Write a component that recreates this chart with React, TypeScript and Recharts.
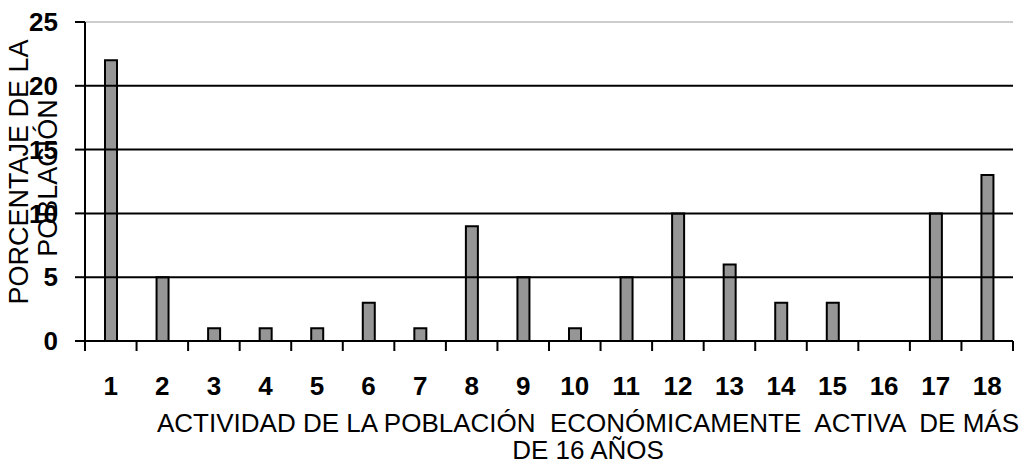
import React from 'react';
import { BarChart, Bar, XAxis, YAxis, ReferenceLine } from 'recharts';

const categories = ['1','2','3','4','5','6','7','8','9','10','11','12','13','14','15','16','17','18'];
const values = [22, 5, 1, 1, 1, 3, 1, 9, 5, 1, 5, 10, 6, 3, 3, 0, 10, 13];
const yTicks = [0, 5, 10, 15, 20, 25];
const gridBlack = [5, 10, 15, 20];
const gridTop = 25;
const yTitle = ['PORCENTAJE DE LA', 'POBLACIÓN'];
const xTitle = ['ACTIVIDAD DE LA POBLACIÓN  ECONÓMICAMENTE  ACTIVA  DE MÁS', 'DE 16 AÑOS'];

const data = categories.map((c, i) => ({ cat: c, value: values[i] }));
const FONT = '"Liberation Sans", Arial, sans-serif';

const YTitle = () => (
  <g fontFamily={FONT} fontSize={27} fill="#000">
    <text transform="translate(28,172) rotate(-90)" textAnchor="middle">{yTitle[0]}</text>
    <text transform="translate(57,178) rotate(-90)" textAnchor="middle">{yTitle[1]}</text>
  </g>
);

const XTitle = () => (
  <g fontFamily={FONT} fontSize={26} fill="#000">
    <text x={157} y={432} style={{ whiteSpace: 'pre' }}>{xTitle[0]}</text>
    <text x={588} y={459} textAnchor="middle">{xTitle[1]}</text>
  </g>
);

const XTick = (props: any) => {
  const { x, y, payload, index, visibleTicksCount } = props;
  const half = payload.offset || 0;
  const axisY = y - 36;
  const last = index === visibleTicksCount - 1;
  return (
    <g>
      <line x1={x - half} x2={x - half} y1={axisY} y2={axisY + 10} stroke="#000" strokeWidth={2} />
      {last && <line x1={x + half} x2={x + half} y1={axisY} y2={axisY + 10} stroke="#000" strokeWidth={2} />}
      <text x={x} y={y + 18} textAnchor="middle" fill="#000" fontSize={26} fontWeight="bold" fontFamily={FONT}>
        {payload.value}
      </text>
    </g>
  );
};

export default function App() {
  return (
    <div style={{ position: 'absolute', left: 0, top: 0, width: 1021, height: 461, background: '#fff' }}>
      <BarChart width={1021} height={461} data={data} margin={{ top: 22, right: 8, left: 0, bottom: 0 }}>
        {gridBlack.map((v) => (
          <ReferenceLine key={v} y={v} stroke="#000" strokeWidth={2} />
        ))}
        <ReferenceLine y={gridTop} stroke="#bbb" strokeWidth={1.5} />
        <XAxis
          dataKey="cat"
          height={120}
          axisLine={{ stroke: '#000', strokeWidth: 2 }}
          tickLine={false}
          tickSize={0}
          tickMargin={36}
          interval={0}
          tick={<XTick />}
          label={{ content: () => <XTitle /> }}
        />
        <YAxis
          width={85}
          domain={[0, 25]}
          ticks={yTicks}
          interval={0}
          tickSize={10}
          tickMargin={17}
          axisLine={{ stroke: '#000', strokeWidth: 2 }}
          tickLine={{ stroke: '#000', strokeWidth: 2 }}
          tick={{ fill: '#000', fontSize: 26, fontWeight: 'bold', fontFamily: FONT }}
          label={{ content: () => <YTitle /> }}
        />
        <Bar dataKey="value" fill="#969696" stroke="#000" strokeWidth={2} barSize={12} isAnimationActive={false} />
      </BarChart>
    </div>
  );
}
